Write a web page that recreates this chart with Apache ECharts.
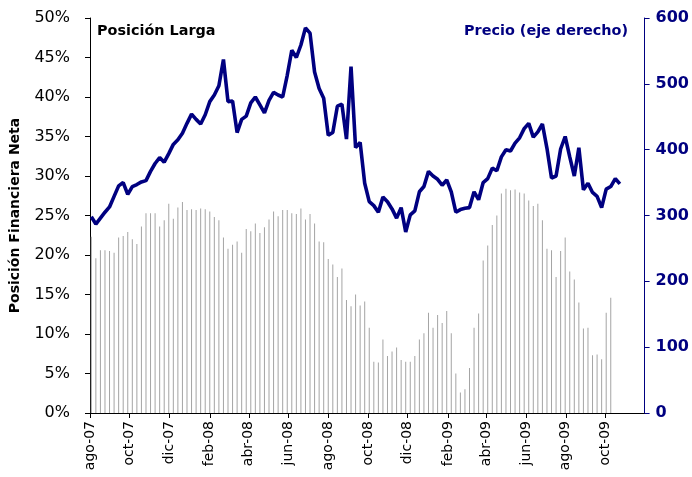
<!DOCTYPE html>
<html>
<head>
<meta charset="utf-8">
<script src="https://cdn.jsdelivr.net/npm/echarts@6/dist/echarts.min.js"></script>
<style>
	html, body { margin: 0; padding: 0; background: #fff; }
	#chart { width: 692px; height: 477px; }
</style>
</head>
<body>
<div id="chart"></div>
<script>
	// primera semana de la serie (viernes)
	var startDate = [2007, 7, 3];
	// posicion larga, % (semanal)
	var posicionLarga = [
		22.3, 19.6, 20.6, 20.6, 20.5, 20.3, 22.2, 22.4, 22.9, 22.0, 21.4, 23.6, 25.3, 25.3, 25.3, 23.6,
		24.4, 26.5, 24.6, 26.0, 26.7, 25.7, 25.8, 25.7, 25.9, 25.8, 25.5, 24.8, 24.4, 22.2, 20.8, 21.3,
		21.7, 20.3, 23.3, 23.0, 24.0, 22.8, 23.5, 24.5, 25.5, 24.9,
		25.7, 25.7, 25.3, 25.2, 25.9, 24.5, 25.2, 24.0, 21.7, 21.6, 19.5, 18.8, 17.2, 18.3, 14.3, 13.5,
		15.0, 13.6, 14.1, 10.8, 6.5, 6.4, 9.3, 7.2, 7.8, 8.3, 6.7, 6.5, 6.5, 7.2, 9.3, 10.1, 12.7, 10.8,
		12.4, 11.4, 12.9, 10.1, 5.0, 2.6, 3.0, 5.7,
		10.8, 12.6, 19.3, 21.2, 23.8, 25.0, 27.8, 28.4, 28.2, 28.3, 27.9, 27.8, 26.9, 26.2, 26.5, 24.4,
		20.8, 20.6, 17.2, 20.5, 22.2, 17.9, 16.9, 14.0, 10.7, 10.8, 7.3, 7.4, 6.8, 12.7, 14.6
	];
	// precio (eje derecho)
	var precio = [
		298, 287, 296, 305, 313, 329, 345, 350, 332, 344, 347, 351, 353, 367, 379, 388, 381, 394, 408, 415,
		425, 440, 454, 446, 439, 453, 473, 483, 497, 537, 473, 474, 426, 446, 451, 471, 480, 468, 456, 475,
		487, 483, 480, 513, 551, 540, 559, 585, 577, 518, 493, 478, 422, 426, 466, 469, 416, 526, 403, 411,
		349, 321, 315, 305, 328, 321, 310, 296, 312, 275, 301, 307, 336, 344, 367, 360, 355, 346, 354, 336,
		305, 309, 311, 312, 336, 324, 350, 356, 372, 368, 389, 400, 398, 410, 418, 432, 440, 419, 427, 439,
		402, 357, 360, 401, 420, 389, 360, 403, 339, 349, 335, 329, 312, 340, 344, 356, 348
	];
	// etiquetas del eje x: cada dos meses
	var tickMonths = [
		[2007, 7], [2007, 9], [2007, 11], [2008, 1], [2008, 3], [2008, 5], [2008, 7],
		[2008, 9], [2008, 11], [2009, 1], [2009, 3], [2009, 5], [2009, 7], [2009, 9]
	];
	var mesesEs = ['ene', 'feb', 'mar', 'abr', 'may', 'jun', 'jul', 'ago', 'sep', 'oct', 'nov', 'dic'];

	// fechas semanales
	var semanas = [];
	for (var i = 0; i < precio.length; i++) {
		semanas.push(new Date(startDate[0], startDate[1], startDate[2] + 7 * i).getTime());
	}
	var barData = posicionLarga.map(function (v, i) { return [semanas[i], v]; });
	var lineData = precio.map(function (v, i) { return [semanas[i], v]; });
	var tickValues = tickMonths.map(function (m) { return new Date(m[0], m[1], 1).getTime(); });

	var navy = '#000080';
	var font = 'DejaVu Sans';

	var myChart = echarts.init(document.getElementById('chart'));
	myChart.setOption({
		animation: false,
		title: [{
			text: 'Posición Larga',
			left: 97, top: 24, padding: 0,
			textStyle: { fontFamily: font, fontSize: 14.4, fontWeight: 'bold', color: '#000' }
		}, {
			text: 'Precio (eje derecho)',
			right: 64, top: 24, padding: 0,
			textStyle: { fontFamily: font, fontSize: 14.4, fontWeight: 'bold', color: navy }
		}],
		grid: { left: 85, right: 46, top: 18, bottom: 64 },
		xAxis: {
			type: 'value',
			min: new Date(2007, 7, 1).getTime(),
			max: new Date(2009, 10, 30).getTime(),
			axisLine: { lineStyle: { color: '#000', width: 1 } },
			axisTick: { customValues: tickValues, length: 5, lineStyle: { color: '#000' } },
			axisLabel: {
				customValues: tickValues,
				rotate: 90,
				margin: 8,
				fontFamily: font,
				fontSize: 14,
				color: '#000',
				formatter: function (val) {
					var d = new Date(val);
					return mesesEs[d.getMonth()] + '-' + String(d.getFullYear()).slice(2);
				}
			},
			splitLine: { show: false }
		},
		yAxis: [{
			type: 'value',
			min: 0, max: 50, interval: 5,
			name: 'Posición Financiera Neta',
			nameLocation: 'middle',
			nameGap: 68,
			nameTextStyle: { fontFamily: font, fontSize: 14, fontWeight: 'bold', color: '#000' },
			axisLine: { show: true, lineStyle: { color: '#000' } },
			axisTick: { show: true, length: 5, lineStyle: { color: '#000' } },
			axisLabel: { formatter: '{value}%', margin: 20, fontFamily: font, fontSize: 16, color: '#000' },
			splitLine: { show: false }
		}, {
			type: 'value',
			min: 0, max: 600, interval: 100,
			position: 'right',
			axisLine: { show: true, lineStyle: { color: navy } },
			axisTick: { show: true, length: 5, lineStyle: { color: navy } },
			axisLabel: { margin: 11, fontFamily: font, fontSize: 16, fontWeight: 'bold', color: navy },
			splitLine: { show: false }
		}],
		series: [{
			name: 'Posición Larga',
			type: 'bar',
			yAxisIndex: 0,
			barWidth: 1,
			itemStyle: { color: '#a4a4a4' },
			data: barData
		}, {
			name: 'Precio',
			type: 'line',
			yAxisIndex: 1,
			symbol: 'none',
			lineStyle: { color: navy, width: 3.6 },
			data: lineData
		}]
	});
</script>
</body>
</html>
